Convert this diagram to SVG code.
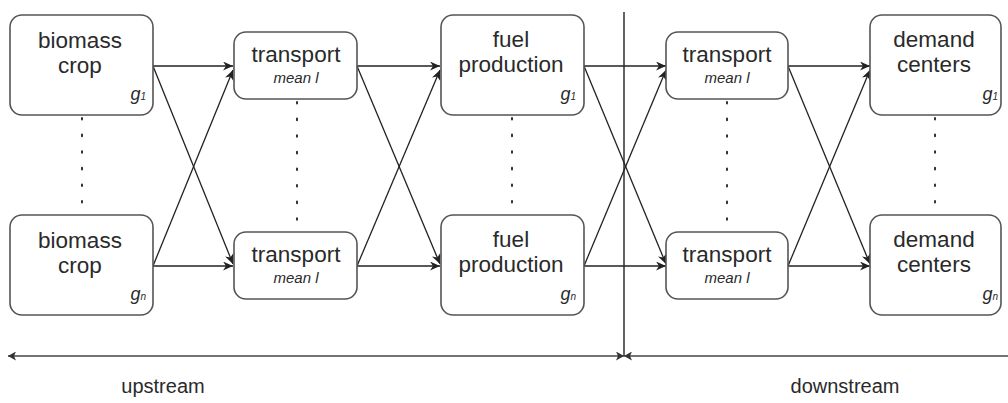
<svg xmlns="http://www.w3.org/2000/svg" width="1008" height="403" viewBox="0 0 1008 403">
<style>
.box{fill:#fff;stroke:#555;stroke-width:1.6}
.t{font-family:"Liberation Sans",Arial,sans-serif;font-size:22.5px;fill:#2a2a2a;text-anchor:middle}
.m{font-family:"Liberation Sans",Arial,sans-serif;font-size:15px;font-style:italic;fill:#2a2a2a;text-anchor:middle}
.g{font-family:"Liberation Sans",Arial,sans-serif;font-size:18px;font-style:italic;fill:#2a2a2a;text-anchor:end}
.s{font-size:10px}
.c{stroke:#222;stroke-width:1.3;fill:none;marker-end:url(#ah)}
.d{stroke:#333;stroke-width:2;stroke-dasharray:1.6 15;stroke-linecap:round;fill:none}
.ax{stroke:#444;stroke-width:1.4;fill:none}
</style>
<defs>
<marker id="ah" markerWidth="11" markerHeight="9" refX="10" refY="4.5" orient="auto" markerUnits="userSpaceOnUse">
<path d="M0,0 L10,4.5 L0,9 L3,4.5 z" fill="#222"/>
</marker>
<marker id="ae" markerWidth="9" markerHeight="9" refX="8" refY="4.5" orient="auto" markerUnits="userSpaceOnUse">
<path d="M0,0 L8,4.5 L0,9 L2,4.5 z" fill="#333"/>
</marker>
<marker id="as" markerWidth="9" markerHeight="9" refX="0" refY="4.5" orient="auto" markerUnits="userSpaceOnUse">
<path d="M8,0 L0,4.5 L8,9 L6,4.5 z" fill="#333"/>
</marker>
</defs>

<g id="dots">
<line class="d" x1="82" y1="118" x2="82" y2="214"/>
<line class="d" x1="297" y1="102" x2="297" y2="230"/>
<line class="d" x1="512" y1="118" x2="512" y2="214"/>
<line class="d" x1="727" y1="102" x2="727" y2="230"/>
<line class="d" x1="935" y1="118" x2="935" y2="214"/>
</g>

<g id="connectors">
<line class="c" x1="153" y1="66" x2="233" y2="66"/>
<line class="c" x1="153" y1="66" x2="233" y2="264"/>
<line class="c" x1="153" y1="266" x2="233" y2="70"/>
<line class="c" x1="153" y1="266" x2="233" y2="266"/>
<line class="c" x1="357" y1="66" x2="440" y2="66"/>
<line class="c" x1="357" y1="66" x2="440" y2="264"/>
<line class="c" x1="357" y1="266" x2="440" y2="70"/>
<line class="c" x1="357" y1="266" x2="440" y2="266"/>
<line class="c" x1="584" y1="66" x2="666" y2="66"/>
<line class="c" x1="584" y1="66" x2="666" y2="264"/>
<line class="c" x1="584" y1="266" x2="666" y2="70"/>
<line class="c" x1="584" y1="266" x2="666" y2="266"/>
<line class="c" x1="788" y1="66" x2="870" y2="66"/>
<line class="c" x1="788" y1="66" x2="870" y2="264"/>
<line class="c" x1="788" y1="266" x2="870" y2="70"/>
<line class="c" x1="788" y1="266" x2="870" y2="266"/>
</g>

<g id="divider">
<line x1="624" y1="12" x2="624" y2="356" stroke="#222" stroke-width="1.4"/>
<line class="ax" x1="8" y1="356" x2="624" y2="356" marker-start="url(#as)" marker-end="url(#ae)"/>
<line class="ax" x1="624" y1="356" x2="1008" y2="356" marker-start="url(#as)"/>
</g>

<g id="biomass1">
<rect class="box" x="10" y="15" width="143" height="100" rx="12"/>
<text class="t" x="80" y="48">biomass</text>
<text class="t" x="80" y="73">crop</text>
<text class="g" x="146" y="100">g<tspan class="s">1</tspan></text>
</g>
<g id="biomassn">
<rect class="box" x="10" y="215" width="143" height="100" rx="12"/>
<text class="t" x="80" y="248">biomass</text>
<text class="t" x="80" y="273">crop</text>
<text class="g" x="146" y="300">g<tspan class="s">n</tspan></text>
</g>

<g id="transport1">
<rect class="box" x="234" y="32" width="123" height="67" rx="12"/>
<text class="t" x="296" y="62">transport</text>
<text class="m" x="296" y="83">mean l</text>
</g>
<g id="transportn">
<rect class="box" x="234" y="232" width="123" height="67" rx="12"/>
<text class="t" x="296" y="262">transport</text>
<text class="m" x="296" y="283">mean l</text>
</g>

<g id="fuel1">
<rect class="box" x="441" y="15" width="143" height="100" rx="12"/>
<text class="t" x="511" y="47">fuel</text>
<text class="t" x="511" y="72">production</text>
<text class="g" x="576" y="100">g<tspan class="s">1</tspan></text>
</g>
<g id="fueln">
<rect class="box" x="441" y="215" width="143" height="100" rx="12"/>
<text class="t" x="511" y="247">fuel</text>
<text class="t" x="511" y="272">production</text>
<text class="g" x="576" y="300">g<tspan class="s">n</tspan></text>
</g>

<g id="transport2">
<rect class="box" x="666" y="32" width="122" height="67" rx="12"/>
<text class="t" x="727" y="62">transport</text>
<text class="m" x="727" y="83">mean l</text>
</g>
<g id="transport2n">
<rect class="box" x="666" y="232" width="122" height="67" rx="12"/>
<text class="t" x="727" y="262">transport</text>
<text class="m" x="727" y="283">mean l</text>
</g>

<g id="demand1">
<rect class="box" x="870" y="15" width="131" height="100" rx="12"/>
<text class="t" x="934" y="47">demand</text>
<text class="t" x="934" y="72">centers</text>
<text class="g" x="998" y="100">g<tspan class="s">1</tspan></text>
</g>
<g id="demandn">
<rect class="box" x="870" y="215" width="131" height="100" rx="12"/>
<text class="t" x="934" y="247">demand</text>
<text class="t" x="934" y="272">centers</text>
<text class="g" x="998" y="300">g<tspan class="s">n</tspan></text>
</g>

<g id="labels">
<text class="t" x="163" y="393" style="font-size:20px">upstream</text>
<text class="t" x="845" y="393" style="font-size:20px">downstream</text>
</g>
</svg>
